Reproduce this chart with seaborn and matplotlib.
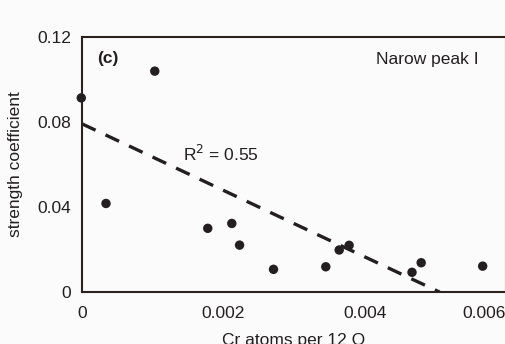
import matplotlib
matplotlib.use("Agg")
import matplotlib.pyplot as plt
import seaborn as sns
import pandas as pd

cr_atoms = [-0.00001, 0.00034, 0.00103, 0.00178, 0.00212, 0.00223, 0.00271,
            0.00345, 0.00364, 0.00378, 0.00467, 0.00480, 0.00567]
strength = [0.0914, 0.0417, 0.1040, 0.0300, 0.0323, 0.0221, 0.0107,
            0.0119, 0.0198, 0.0220, 0.0093, 0.0138, 0.0122]
fit_x = [0.0, 0.00506]
fit_y = [0.0792, 0.0]
x_ticks = [0, 0.002, 0.004, 0.006]
x_tick_labels = ["0", "0.002", "0.004", "0.006"]
y_ticks = [0, 0.04, 0.08, 0.12]
y_tick_labels = ["0", "0.04", "0.08", "0.12"]

sns.set_style("white")
plt.rcParams['font.family'] = ['Liberation Sans', 'DejaVu Sans']
ink = "#231f20"

df = pd.DataFrame({"x": cr_atoms, "y": strength})
fit = pd.DataFrame({"x": fit_x, "y": fit_y})

fig = plt.figure(figsize=(5.06, 3.44), dpi=100, facecolor="#fbfbfb")
ax = fig.add_axes([0.162, 0.151, 0.838, 0.741])
ax.set_facecolor("#fbfbfb")

sns.lineplot(data=fit, x="x", y="y", ax=ax, color=ink, lw=2.4,
             dashes=False, linestyle=(0, (4.5, 3.3)), zorder=2)
sns.scatterplot(data=df, x="x", y="y", ax=ax, color=ink, s=46,
                edgecolor="none", zorder=3, clip_on=False)

ax.set_xlim(0, 0.006)
ax.set_ylim(0, 0.12)
ax.set_xticks(x_ticks)
ax.set_xticklabels(x_tick_labels)
ax.set_yticks(y_ticks)
ax.set_yticklabels(y_tick_labels)
ax.get_xticklabels()[-1].set_horizontalalignment("right")

ax.tick_params(direction="in", length=4, width=1.2, colors=ink,
               labelsize=12.5, pad=8, labelcolor=ink)
ax.tick_params(axis="x", pad=10)
for s in ax.spines.values():
    s.set_color("#2b2220")
    s.set_linewidth(1.5)

ax.set_xlabel("Cr atoms per 12 O", fontsize=12.5, color=ink, labelpad=9)
ax.set_ylabel("strength coefficient", fontsize=12.5, color=ink, labelpad=10)

ax.text(0.00021, 0.110, "(c)", fontsize=12.5, fontweight="bold", color=ink,
        va="center", ha="left")
ax.text(0.00488, 0.1095, "Narow peak I", fontsize=12.5, color=ink,
        va="center", ha="center")
ax.text(0.00143, 0.065, r"R$^{2}$ = 0.55", fontsize=12.5, color=ink,
        va="center", ha="left")

fig.savefig("out.png", dpi=100, facecolor=fig.get_facecolor())
